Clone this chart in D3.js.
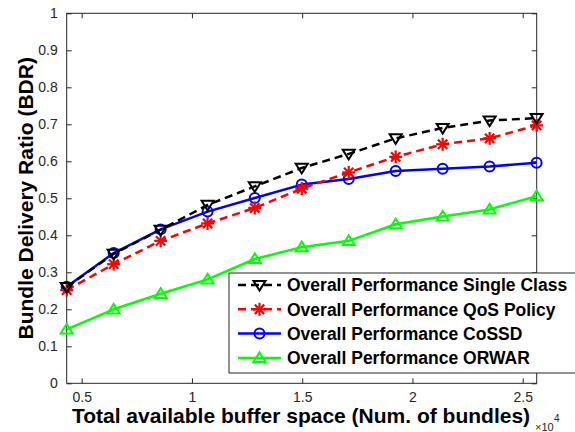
<!DOCTYPE html>
<html>
<head>
<meta charset="utf-8">
<script src="https://cdn.jsdelivr.net/npm/d3@7"></script>
<style>
  html, body { margin: 0; padding: 0; background: #fff; }
  svg { display: block; font-family: "Liberation Sans", Arial, sans-serif; }
</style>
</head>
<body>
<svg id="chart" width="575" height="432"></svg>
<script>
// Buffer space in units of 10^4 bundles
const bufferSpace = [0.432, 0.645, 0.858, 1.071, 1.285, 1.498, 1.711, 1.924, 2.137, 2.350, 2.563];

// Bundle delivery ratio per scheme
const singleClass = [0.260, 0.350, 0.415, 0.482, 0.532, 0.582, 0.620, 0.662, 0.690, 0.710, 0.717];
const qosPolicy   = [0.252, 0.322, 0.385, 0.432, 0.474, 0.526, 0.570, 0.612, 0.646, 0.662, 0.697];
const cossd       = [0.261, 0.352, 0.416, 0.464, 0.501, 0.537, 0.552, 0.574, 0.580, 0.586, 0.596];
const orwar       = [0.146, 0.200, 0.242, 0.281, 0.336, 0.368, 0.385, 0.430, 0.451, 0.470, 0.506];

const xTicks = [0.5, 1, 1.5, 2, 2.5];
const yTicks = [0, 0.1, 0.2, 0.3, 0.4, 0.5, 0.6, 0.7, 0.8, 0.9, 1];

const seriesNames = [
  "Overall Performance Single Class",
  "Overall Performance QoS Policy",
  "Overall Performance CoSSD",
  "Overall Performance ORWAR"
];

const series = [
  { name: seriesNames[0], values: singleClass, color: "#000000", dash: "8,5", marker: "triDown" },
  { name: seriesNames[1], values: qosPolicy,   color: "#ff0000", dash: "8,5", marker: "star" },
  { name: seriesNames[2], values: cossd,       color: "#0000ff", dash: null,  marker: "circle" },
  { name: seriesNames[3], values: orwar,       color: "#00ff00", dash: null,  marker: "triUp" }
];

const svg = d3.select("#chart");
const plotLeft = 66.7, plotRight = 536.7, plotTop = 13.3, plotBottom = 383.3;

const x = d3.scaleLinear().domain([0.432, 2.5635]).range([plotLeft, plotRight]);
const y = d3.scaleLinear().domain([0, 1]).range([plotBottom, plotTop]);

const axisColor = "#262626";

// Axes: ticks point inward on all four sides
function styleAxis(g) {
  g.select(".domain").remove();
  g.selectAll(".tick line").attr("stroke", axisColor).attr("stroke-width", 1);
  g.selectAll(".tick text").attr("fill", axisColor).attr("font-size", 14)
    .attr("font-family", "'Liberation Sans', Arial, sans-serif");
}

svg.append("g").attr("transform", `translate(0,${plotBottom})`)
  .call(d3.axisBottom(x).tickValues(xTicks).tickSize(-5).tickPadding(9).tickFormat(d3.format("")))
  .call(styleAxis);
svg.append("g").attr("transform", `translate(0,${plotTop})`)
  .call(d3.axisTop(x).tickValues(xTicks).tickSize(-5).tickFormat(""))
  .call(styleAxis);
svg.append("g").attr("transform", `translate(${plotLeft},0)`)
  .call(d3.axisLeft(y).tickValues(yTicks).tickSize(-5).tickPadding(9).tickFormat(d3.format("")))
  .call(styleAxis);
svg.append("g").attr("transform", `translate(${plotRight},0)`)
  .call(d3.axisRight(y).tickValues(yTicks).tickSize(-5).tickFormat(""))
  .call(styleAxis);

svg.append("rect")
  .attr("x", plotLeft).attr("y", plotTop)
  .attr("width", plotRight - plotLeft).attr("height", plotBottom - plotTop)
  .attr("fill", "none").attr("stroke", axisColor).attr("stroke-width", 1);

// Marker shapes
function drawMarker(g, type, cx, cy, color) {
  if (type === "circle") {
    g.append("circle").attr("cx", cx).attr("cy", cy).attr("r", 5)
      .attr("fill", "none").attr("stroke", color).attr("stroke-width", 2);
  } else if (type === "triUp" || type === "triDown") {
    const s = type === "triUp" ? 1 : -1;
    const h = 5.5, w = 6;
    const pts = [[cx, cy - s * h], [cx - w, cy + s * h * 0.75], [cx + w, cy + s * h * 0.75]];
    g.append("polygon").attr("points", pts.map(p => p.join(",")).join(" "))
      .attr("fill", "none").attr("stroke", color).attr("stroke-width", 2)
      .attr("stroke-linejoin", "miter");
  } else if (type === "star") {
    const r = 6.5, d = r * 0.72;
    const segs = [[-r, 0, r, 0], [0, -r, 0, r], [-d, -d, d, d], [-d, d, d, -d]];
    segs.forEach(s => g.append("line")
      .attr("x1", cx + s[0]).attr("y1", cy + s[1]).attr("x2", cx + s[2]).attr("y2", cy + s[3])
      .attr("stroke", color).attr("stroke-width", 2.2));
  }
}

const line = d3.line().x((d, i) => x(bufferSpace[i])).y(d => y(d));

// Draw bottom series first so the first-listed curves sit on top
series.slice().reverse().forEach(s => {
  const g = svg.append("g");
  g.append("path").datum(s.values).attr("d", line)
    .attr("fill", "none").attr("stroke", s.color).attr("stroke-width", 2.5)
    .attr("stroke-dasharray", s.dash).attr("stroke-linejoin", "round");
  s.values.forEach((v, i) => drawMarker(g, s.marker, x(bufferSpace[i]), y(v), s.color));
});

// Axis titles
svg.append("text")
  .attr("x", 301).attr("y", 423)
  .attr("text-anchor", "middle").attr("font-weight", "bold").attr("font-size", 21)
  .attr("fill", "#000")
  .text("Total available buffer space (Num. of bundles)");

svg.append("text")
  .attr("transform", `translate(33,${(plotTop + plotBottom) / 2}) rotate(-90)`)
  .attr("text-anchor", "middle").attr("font-weight", "bold").attr("font-size", 21)
  .attr("fill", "#000")
  .text("Bundle Delivery Ratio (BDR)");

// Exponent label for the x axis, just past the end of the title
const expG = svg.append("g").attr("fill", axisColor).attr("font-size", 11);
expG.append("text").attr("x", 535).attr("y", 431).text("×10");
expG.append("text").attr("x", 554).attr("y", 422).attr("font-size", 10).text("4");

// Legend
const leg = svg.append("g");
leg.append("rect").attr("x", 229).attr("y", 273).attr("width", 360).attr("height", 100)
  .attr("fill", "#fff").attr("stroke", axisColor).attr("stroke-width", 1);
series.forEach((s, i) => {
  const cy = 285 + i * 24.3;
  leg.append("line").attr("x1", 238).attr("x2", 281).attr("y1", cy).attr("y2", cy)
    .attr("stroke", s.color).attr("stroke-width", 2.5)
    .attr("stroke-dasharray", s.dash ? "8,5" : null);
  drawMarker(leg, s.marker, 259.5, cy, s.color);
  leg.append("text").attr("x", 287).attr("y", cy + 6.3)
    .attr("font-weight", "bold").attr("font-size", 17.5).attr("fill", "#000")
    .text(s.name);
});
</script>
</body>
</html>
